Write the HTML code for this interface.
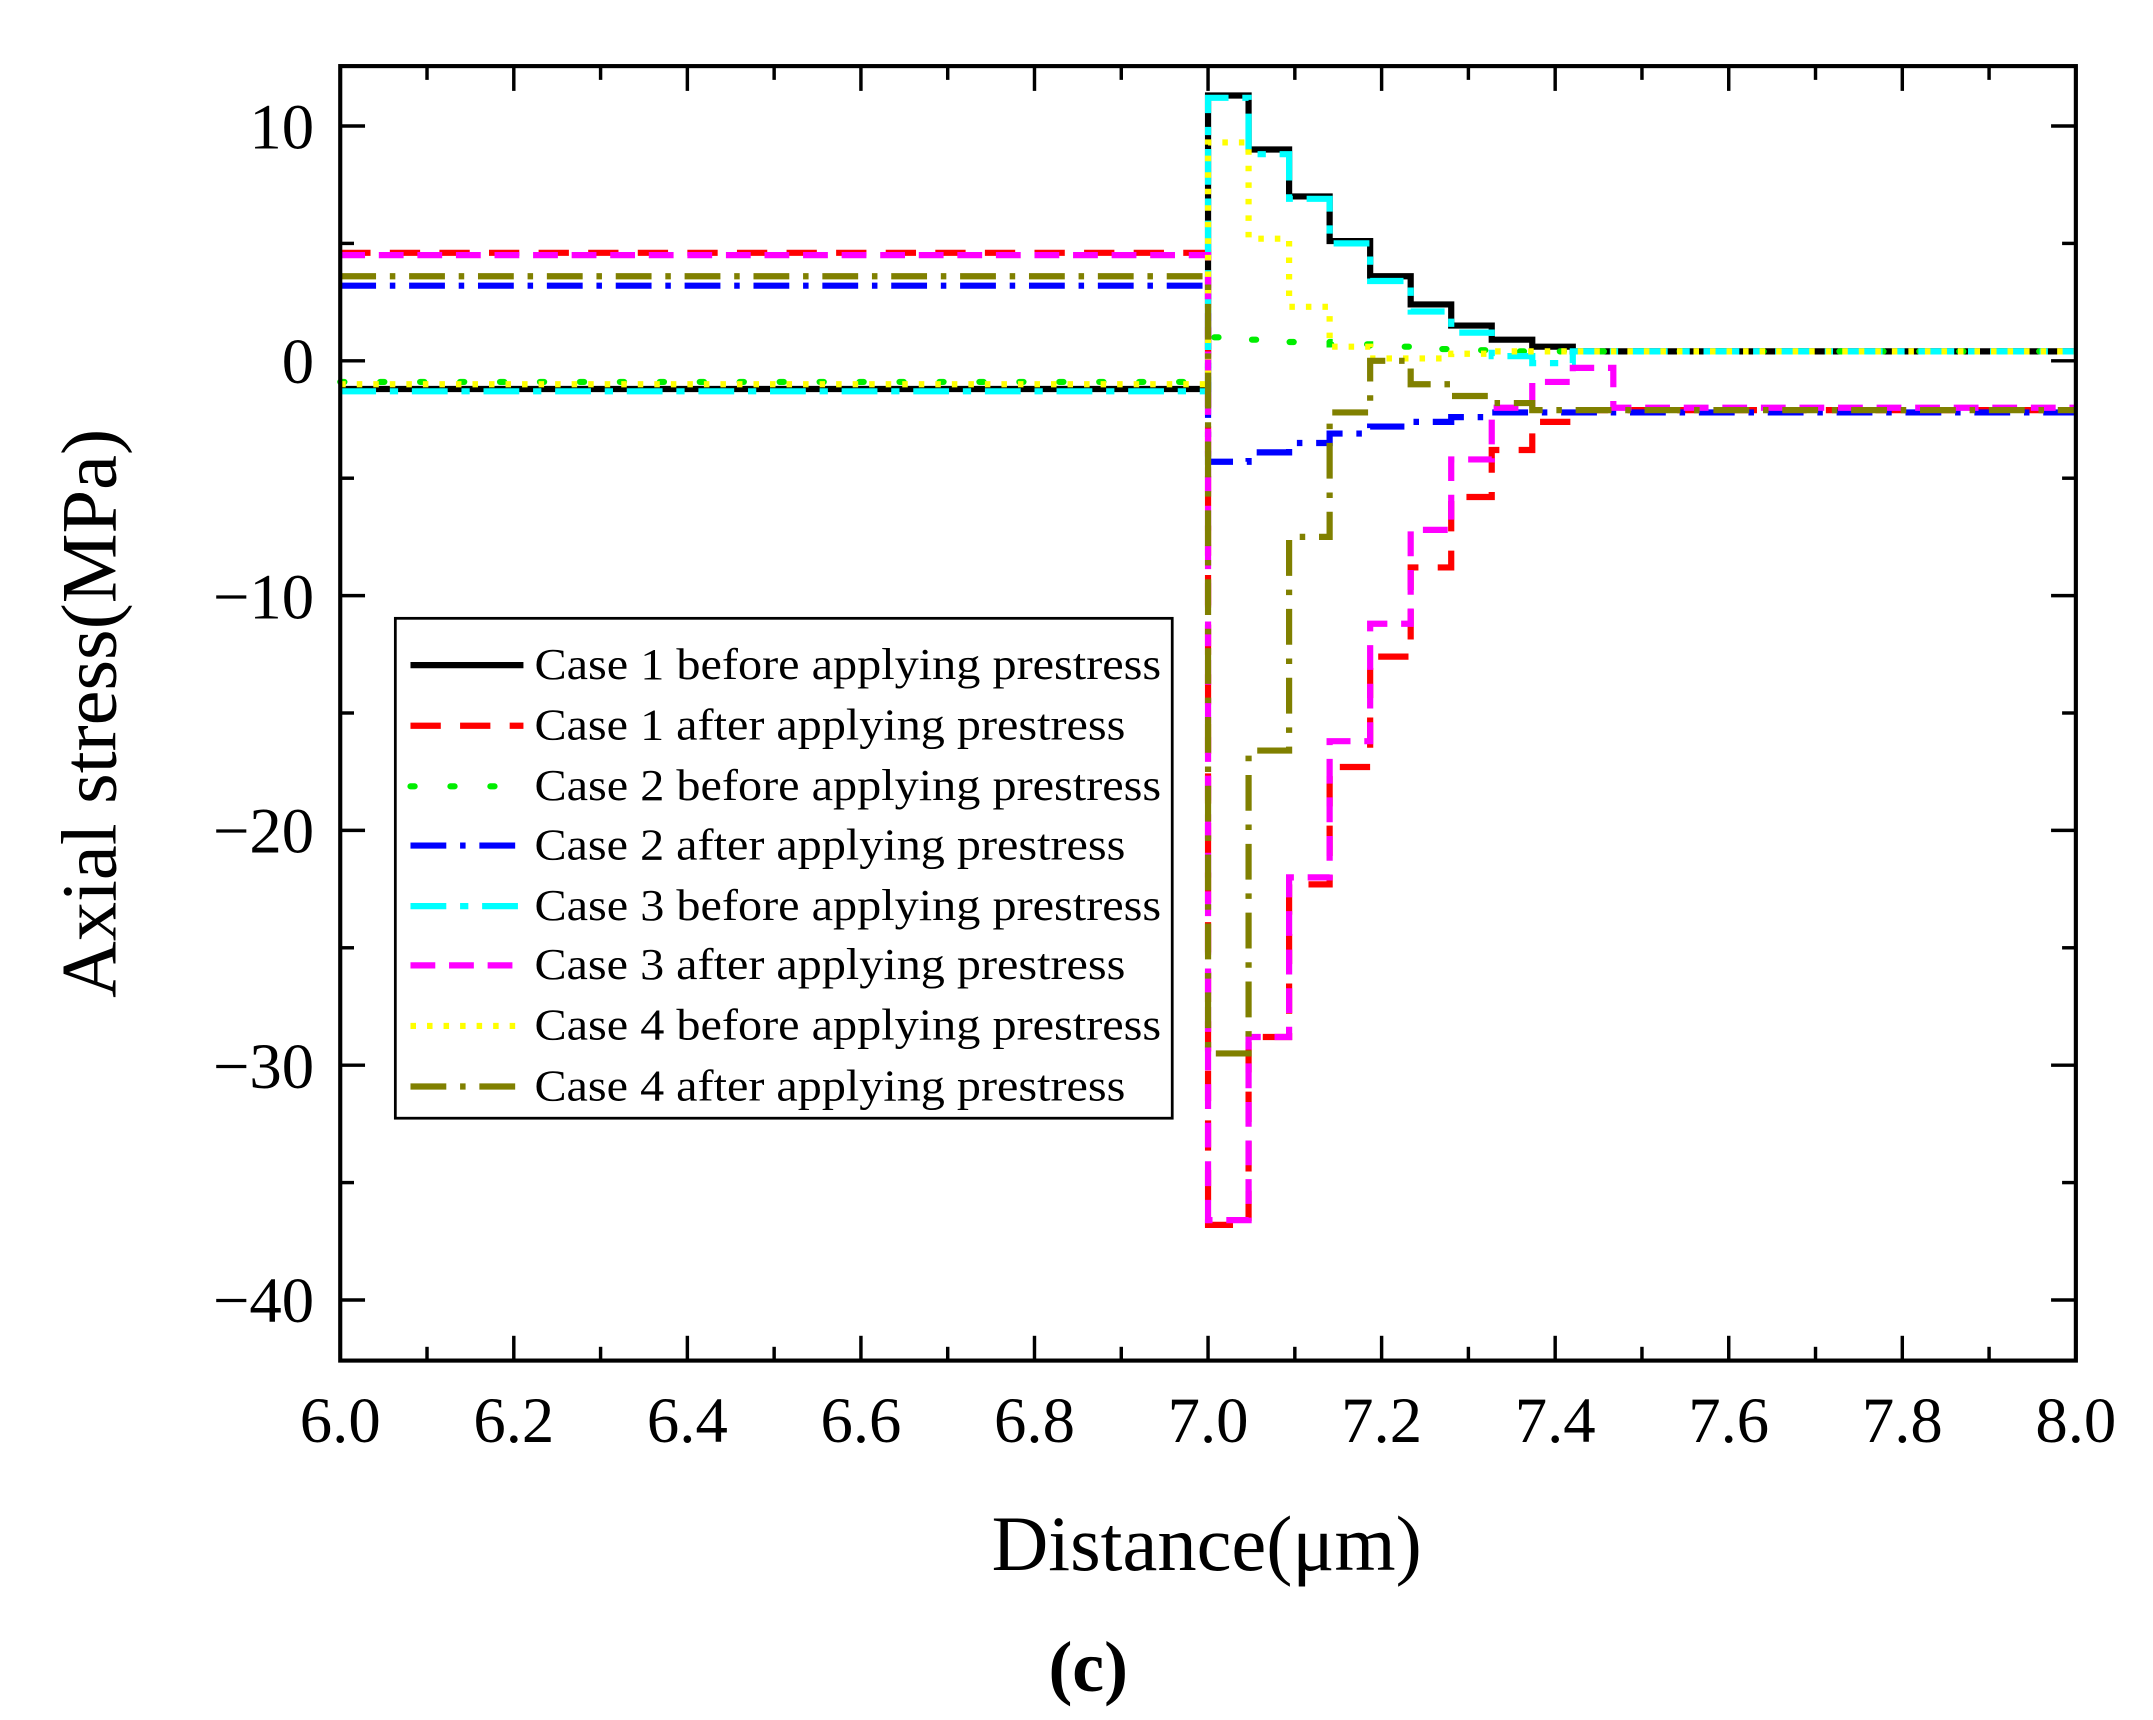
<!DOCTYPE html>
<html><head><meta charset="utf-8"><style>
html,body{margin:0;padding:0;background:#fff;}
svg{display:block;}
text{font-family:"Liberation Serif",serif;fill:#000;}
</style></head><body>
<svg id="s" width="2153" height="1720" viewBox="0 0 1563 1249" preserveAspectRatio="none" xmlns="http://www.w3.org/2000/svg">
<g id="series" fill="none" stroke-width="4.5"></g>
<rect x="247" y="48" width="1260" height="940" fill="none" stroke="#000" stroke-width="3"/>
<g id="ticks" stroke="#000" stroke-width="2.5"></g>
<g font-size="47" text-anchor="end">
<text x="228" y="108">10</text><text x="228" y="278">0</text><text x="228" y="449">−10</text>
<text x="228" y="619">−20</text><text x="228" y="790">−30</text><text x="228" y="960">−40</text>
</g>
<g font-size="47" text-anchor="middle">
<text x="247" y="1047">6.0</text><text x="373" y="1047">6.2</text><text x="499" y="1047">6.4</text>
<text x="625" y="1047">6.6</text><text x="751" y="1047">6.8</text><text x="877" y="1047">7.0</text>
<text x="1003" y="1047">7.2</text><text x="1129" y="1047">7.4</text><text x="1255" y="1047">7.6</text>
<text x="1381" y="1047">7.8</text><text x="1507" y="1047">8.0</text>
</g>
<text x="876" y="1140" font-size="57" text-anchor="middle">Distance(μm)</text>
<text transform="translate(84,518) rotate(-90)" font-size="57" text-anchor="middle">Axial stress(MPa)</text>
<text x="790" y="1228" font-size="52" font-weight="bold" text-anchor="middle">(c)</text>
<rect x="287" y="449" width="564" height="363" fill="#fff" stroke="#000" stroke-width="2"/>
<g id="legend" stroke-width="4.5"></g>
<g font-size="32">
<text x="388" y="493" textLength="455" lengthAdjust="spacingAndGlyphs">Case 1  before applying prestress</text>
<text x="388" y="537" textLength="429" lengthAdjust="spacingAndGlyphs">Case 1  after applying prestress</text>
<text x="388" y="581" textLength="455" lengthAdjust="spacingAndGlyphs">Case 2  before applying prestress</text>
<text x="388" y="624" textLength="429" lengthAdjust="spacingAndGlyphs">Case 2  after applying prestress</text>
<text x="388" y="668" textLength="455" lengthAdjust="spacingAndGlyphs">Case 3  before applying prestress</text>
<text x="388" y="711" textLength="429" lengthAdjust="spacingAndGlyphs">Case 3  after applying prestress</text>
<text x="388" y="755" textLength="455" lengthAdjust="spacingAndGlyphs">Case 4  before applying prestress</text>
<text x="388" y="799" textLength="429" lengthAdjust="spacingAndGlyphs">Case 4  after applying prestress</text>
</g>
</svg>
<script>
var NS="http://www.w3.org/2000/svg";
function X(v){return 247+(v-6)*630;}
function Y(v){return 262-17.05*v;}
function el(p,t,a){var e=document.createElementNS(NS,t);for(var k in a)e.setAttribute(k,a[k]);p.appendChild(e);return e;}
var tk=document.getElementById('ticks');
for(var i=0;i<=20;i++){var x=X(6+i*0.1);var L=(i%2==0)?18:10;el(tk,'line',{x1:x,y1:988,x2:x,y2:988-L});el(tk,'line',{x1:x,y1:48,x2:x,y2:48+L});}
for(var v=-45;v<=10;v+=5){var y=Y(v);if(y>988||y<48)continue;var L=(v%10==0)?18:10;el(tk,'line',{x1:247,y1:y,x2:247+L,y2:y});el(tk,'line',{x1:1507,y1:y,x2:1507-L,y2:y});}
var W=0.0467;
var series=[
 {c:'#000',d:'',pre:-1.2,v:[11.3,9.0,7.0,5.1,3.6,2.4,1.5,0.9,0.6],post:0.4},
 {c:'#ff0000',d:'22 14',pre:4.6,v:[-36.8,-28.8,-22.3,-17.3,-12.6,-8.8,-5.8,-3.8,-2.6],post:-2.1},
 {c:'#00ee00',d:'3 26',pre:-0.9,v:[1.0,0.9,0.8,0.7,0.6,0.5,0.45],post:0.4,lc:'round'},
 {c:'#0000ff',d:'26 10 4 10',pre:3.2,v:[-4.3,-3.9,-3.5,-3.1,-2.8,-2.6,-2.4,-2.2],post:-2.2},
 {c:'#00ffff',d:'26 10 6 10',pre:-1.3,v:[11.2,8.8,6.9,5.0,3.4,2.1,1.2,0.2,-0.1],post:0.4},
 {c:'#ff00ff',d:'18 10',pre:4.5,v:[-36.6,-28.8,-22.0,-16.2,-11.2,-7.2,-4.2,-2.0,-0.9,-0.3],post:-2.0},
 {c:'#ffff00',d:'4 8',pre:-1.0,v:[9.3,5.2,2.3,0.6,0.1,0.1,0.3,0.4],post:0.4},
 {c:'#808000',d:'26 10 4 10',pre:3.6,v:[-29.5,-16.6,-7.5,-2.2,0.0,-1.0,-1.5,-1.8,-2.1],post:-2.1}
];
var g=document.getElementById('series');
series.forEach(function(s){
 var d='M'+X(6)+','+Y(s.pre)+' L'+X(7)+','+Y(s.pre);
 var x=7;
 s.v.forEach(function(v){d+=' L'+X(x)+','+Y(v)+' L'+X(x+W)+','+Y(v);x+=W;});
 d+=' L'+X(x)+','+Y(s.post)+' L'+X(8)+','+Y(s.post);
 var a={d:d,stroke:s.c};if(s.d)a['stroke-dasharray']=s.d;if(s.lc)a['stroke-linecap']=s.lc;
 el(g,'path',a);
});
var lg=document.getElementById('legend');
var ys=[483,527,571,614,658,701,745,789];
series.forEach(function(s,i){var a={x1:298,y1:ys[i],x2:380,y2:ys[i],stroke:s.c};if(s.d)a['stroke-dasharray']=s.d;if(s.lc)a['stroke-linecap']=s.lc;el(lg,'line',a);});
</script>
</body></html>
